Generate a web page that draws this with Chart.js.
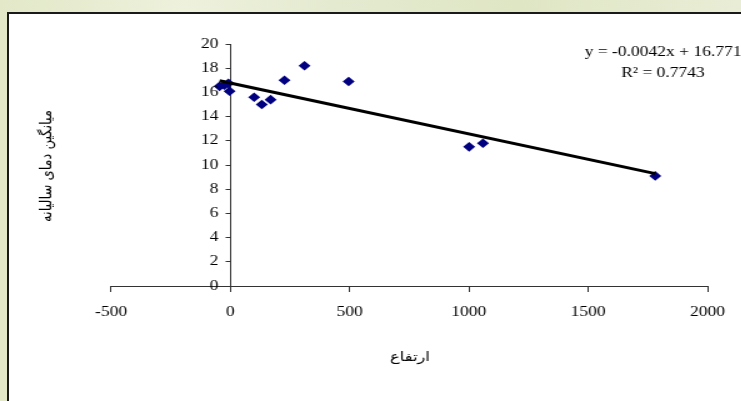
<!DOCTYPE html>
<html>
<head>
<meta charset="utf-8">
<script src="https://cdn.jsdelivr.net/npm/chart.js@4"></script>
<style>
  html, body { margin: 0; padding: 0; width: 741px; height: 401px; overflow: hidden; }
  body {
    background: linear-gradient(90deg, #e2e8c8 0%, #eef1dc 25%, #e4ead0 45%, #dfe6c4 70%, #e9edd6 100%);
    position: relative;
  }
  #box {
    position: absolute; left: 7px; top: 12px; width: 800px; height: 500px;
    border: 2px solid #1a1a1a; background: #fff;
  }
  /* the original picture is stretched sideways, so the chart is drawn narrower and widened */
  #wrap {
    position: absolute; left: 0; top: 0; width: 593px; height: 401px;
    transform: scaleX(1.25); transform-origin: 0 0;
  }
</style>
</head>
<body>
<div id="box"></div>
<div id="wrap"><canvas id="chart" width="593" height="401"></canvas></div>
<script>
// altitude (m) and mean yearly temperature
const altitude = [-45, -25, -8, -3, 100, 132, 169, 227, 311, 496, 1001, 1059, 1781];
const temperature = [16.5, 16.6, 16.75, 16.1, 15.6, 15.0, 15.4, 17.0, 18.2, 16.9, 11.5, 11.8, 9.1];

// trendline shown on the chart
const slope = -0.0042;
const intercept = 16.771;
const equationText = 'y = -0.0042x + 16.771';
const r2Text = 'R\u00B2 = 0.7743';

const xTitle = 'ارتفاع';
const yTitle = 'میانگین دمای سالیانه';

const points = altitude.map((x, i) => ({ x: x, y: temperature[i] }));
const xMin = Math.min(...altitude);
const xMax = Math.max(...altitude);
const trend = [xMin, xMax].map(x => ({ x: x, y: slope * x + intercept }));

const serif = "'Liberation Serif', 'Times New Roman', serif";

// y labels (the axis sits at x = 0, chart.js puts them flush on the line),
// axis titles and the equation
const labelsPlugin = {
  id: 'labels',
  afterDraw(chart) {
    const ctx = chart.ctx;
    const xs = chart.scales.x;
    const ys = chart.scales.y;
    ctx.save();
    ctx.fillStyle = '#000';

    ctx.font = "14px " + serif;
    ctx.textAlign = 'right';
    ctx.textBaseline = 'middle';
    const axisX = xs.getPixelForValue(0);
    ys.ticks.forEach(t => {
      ctx.fillText(String(t.value), axisX - 9.6, ys.getPixelForValue(t.value));
    });

    ctx.textAlign = 'center';
    ctx.textBaseline = 'alphabetic';
    ctx.fillText(equationText, 530.4, 56);
    ctx.fillText(r2Text, 530.4, 77);

    ctx.font = "13px 'DejaVu Sans', sans-serif";
    ctx.textBaseline = 'middle';
    ctx.fillText(xTitle, 328, 358);

    ctx.translate(37.6, 166);
    ctx.rotate(-Math.PI / 2);
    ctx.fillText(yTitle, 0, 0);
    ctx.restore();
  }
};

const ctx = document.getElementById('chart').getContext('2d');
const chart = new Chart(ctx, {
  type: 'scatter',
  data: {
    datasets: [
      {
        type: 'line',
        label: 'trend',
        data: trend,
        borderColor: '#000',
        borderWidth: 3,
        pointRadius: 0,
        fill: false,
        order: 0
      },
      {
        label: 'temp',
        data: points,
        backgroundColor: '#000080',
        borderColor: '#000080',
        pointStyle: 'rectRot',
        pointRadius: 4.8,
        borderWidth: 0,
        order: 1
      }
    ]
  },
  options: {
    responsive: false,
    animation: false,
    layout: { padding: { left: 88.8, right: 23.4, top: 44, bottom: 115 } },
    plugins: {
      legend: { display: false },
      tooltip: { enabled: false }
    },
    scales: {
      x: {
        type: 'linear',
        position: { y: 0 },
        min: -500,
        max: 2000,
        ticks: {
          stepSize: 500, color: '#000', font: { family: serif, size: 14 }, padding: 13, maxRotation: 0,
          callback: v => String(v)
        },
        grid: { drawOnChartArea: false, tickLength: 5, color: '#333' },
        border: { color: '#333', width: 1 }
      },
      y: {
        type: 'linear',
        position: { x: 0 },
        min: 0,
        max: 20,
        ticks: { stepSize: 2, display: false },
        grid: { drawOnChartArea: false, tickLength: 3.5, color: '#333' },
        border: { color: '#333', width: 1 }
      }
    }
  },
  plugins: [labelsPlugin]
});
</script>
</body>
</html>
